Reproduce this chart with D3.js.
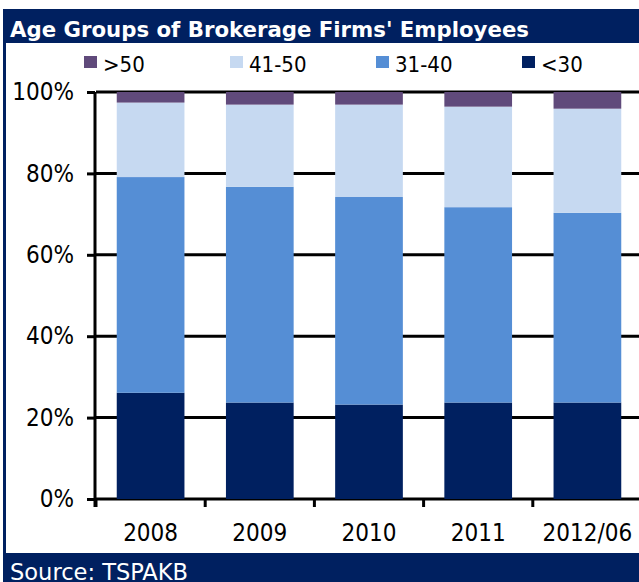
<!DOCTYPE html>
<html>
<head>
<meta charset="utf-8">
<script src="https://cdn.jsdelivr.net/npm/d3@7/dist/d3.min.js"></script>
<style>
  html, body { margin: 0; padding: 0; background: #fff; }
  svg { display: block; }
</style>
</head>
<body>
<script>
// Age-group shares (%) per year, stacked bottom to top: <30, 31-40, 41-50, >50
const categories = ["2008", "2009", "2010", "2011", "2012/06"];
const under30   = [26.1, 23.7, 23.2, 23.7, 23.7];
const age31to40 = [53.0, 53.0, 51.0, 48.0, 46.6];
const age41to50 = [18.3, 20.2, 22.7, 24.7, 25.6];
const over50    = [2.6, 3.1, 3.1, 3.6, 4.1];
const seriesNames = ["<30", "31-40", "41-50", ">50"];
const legendOrder = [">50", "41-50", "31-40", "<30"];
const yTicks = [0, 20, 40, 60, 80, 100];
const titleText = "Age Groups of Brokerage Firms' Employees";
const sourceText = "Source: TSPAKB";

const W = 639, H = 582;
const navy = "#002060";
const colors = { "<30": "#002060", "31-40": "#558ED5", "41-50": "#C6D9F1", ">50": "#604A7B" };
const labelFont = "'DejaVu Sans Condensed', 'DejaVu Sans', sans-serif";

const rows = categories.map((c, i) => ({
  cat: c, "<30": under30[i], "31-40": age31to40[i], "41-50": age41to50[i], ">50": over50[i]
}));

const svg = d3.select("body").append("svg").attr("width", W).attr("height", H);

// frame: navy title band, left border and source band
svg.append("rect").attr("x", 3).attr("y", 9).attr("width", W).attr("height", H).attr("fill", navy);
svg.append("rect").attr("x", 6).attr("y", 43).attr("width", W).attr("height", 510).attr("fill", "#fff");

svg.append("text")
  .attr("x", 10).attr("y", 37)
  .attr("fill", "#fff")
  .style("font-family", labelFont)
  .style("font-weight", "bold")
  .style("font-size", "22px")
  .attr("textLength", 519).attr("lengthAdjust", "spacingAndGlyphs")
  .text(titleText);

svg.append("text")
  .attr("x", 10).attr("y", 580)
  .attr("fill", "#fff")
  .style("font-family", labelFont)
  .style("font-size", "23px")
  .attr("textLength", 178).attr("lengthAdjust", "spacingAndGlyphs")
  .text(sourceText);

// scales
const x = d3.scaleBand().domain(categories).range([96, 642]).paddingInner(0.38).paddingOuter(0.19);
const y = d3.scaleLinear().domain([0, 100]).range([499, 92]);

// horizontal gridlines
svg.append("g").selectAll("line").data(yTicks).join("line")
  .attr("x1", 96).attr("x2", 642)
  .attr("y1", d => y(d)).attr("y2", d => y(d))
  .attr("stroke", "#000").attr("stroke-width", 3);

// stacked bars
const stack = d3.stack().keys(seriesNames)(rows);
svg.append("g").selectAll("g").data(stack).join("g")
  .attr("fill", d => colors[d.key])
  .selectAll("rect").data(d => d).join("rect")
  .attr("x", d => x(d.data.cat))
  .attr("width", x.bandwidth())
  .attr("y", d => y(d[1]))
  .attr("height", d => y(d[0]) - y(d[1]));

// y axis with tick labels
const yAxis = svg.append("g").attr("transform", "translate(95,0)")
  .call(d3.axisLeft(y).tickValues(yTicks).tickFormat(d => d + "%").tickSize(8).tickPadding(13));
yAxis.select(".domain").attr("d", `M0,${y(100)}V${y(0) + 8}`).attr("stroke", "#000").attr("stroke-width", 3);
yAxis.selectAll(".tick line").attr("stroke", "#000").attr("stroke-width", 3);
yAxis.selectAll(".tick text")
  .style("font-family", labelFont).style("font-size", "24px").attr("fill", "#000");

// x axis: ticks at category boundaries, labels centred in each band
const step = x.step();
const bounds = d3.range(categories.length + 1).map(i => 96 + i * step);
svg.append("g").selectAll("line").data(bounds).join("line")
  .attr("x1", d => d).attr("x2", d => d)
  .attr("y1", y(0)).attr("y2", y(0) + 8)
  .attr("stroke", "#000").attr("stroke-width", 3);
svg.append("g").selectAll("text").data(categories).join("text")
  .attr("x", d => x(d) + x.bandwidth() / 2)
  .attr("y", 541)
  .attr("text-anchor", "middle")
  .style("font-family", labelFont).style("font-size", "24px")
  .text(d => d);

// legend
const legend = svg.append("g").selectAll("g").data(legendOrder).join("g")
  .attr("transform", (d, i) => `translate(${84 + i * 146},56)`);
legend.append("rect").attr("width", 13).attr("height", 12).attr("fill", d => colors[d]);
legend.append("text").attr("x", 19).attr("y", 16)
  .style("font-family", labelFont).style("font-size", "22px")
  .text(d => d);
</script>
</body>
</html>
